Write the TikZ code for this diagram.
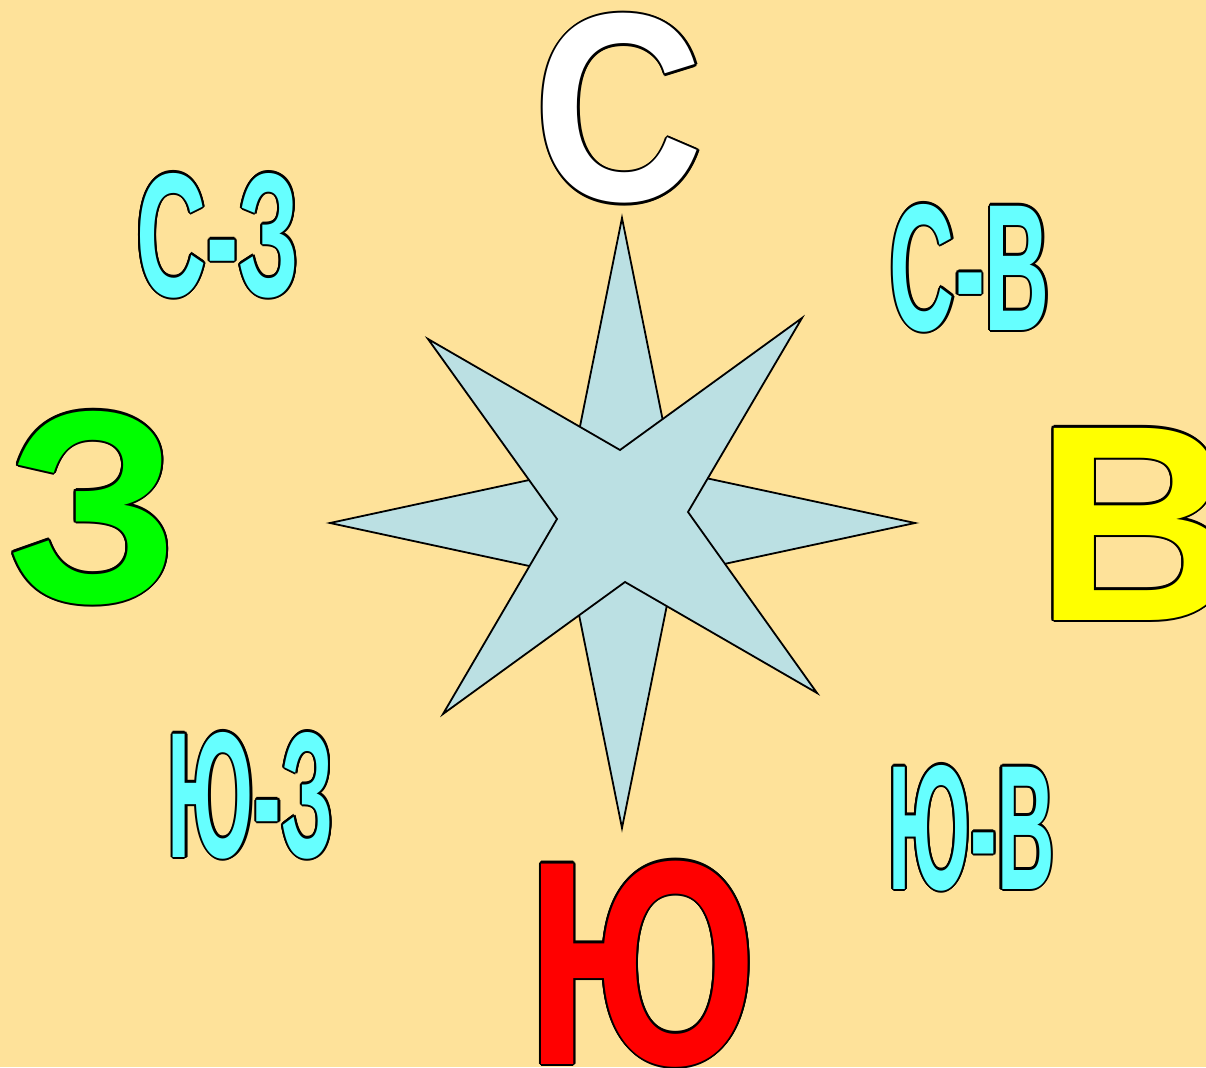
\documentclass[tikz,border=0pt]{standalone}
\usepackage{fontspec}
\setmainfont{Liberation Sans}
\usepackage{graphicx}
\definecolor{bg}{RGB}{254,226,154}
\definecolor{starfill}{RGB}{187,224,227}
\definecolor{cyanl}{RGB}{102,255,255}
\definecolor{greenl}{RGB}{0,255,0}
\definecolor{yellowl}{RGB}{255,255,0}
\definecolor{redl}{RGB}{255,0,0}
\newcommand\outl[4]{%
  \makebox[0pt][l]{%
    \foreach \a in {0,22.5,...,337.5}{%
      \pgfmathsetlengthmacro\ox{2.1pt*cos(\a)}%
      \pgfmathsetlengthmacro\oy{2.1pt*sin(\a)}%
      \makebox[0pt][l]{\hspace*{\ox}\raisebox{\oy}{\resizebox{#2}{#3}{\color{black}\bfseries #4}}}}}%
  \resizebox{#2}{#3}{\color{#1}\bfseries #4}}
\tikzset{
  lbl/.style={inner sep=0pt, anchor=base},
  starline/.style={draw=black, line width=1.8pt, fill=starfill, line join=miter}
}
\begin{document}
\begin{tikzpicture}[x=1pt,y=-1pt]
\useasboundingbox (0,0) rectangle (1206,1067);
\clip (0,0) rectangle (1206,1067);
\fill[bg] (0,0) rectangle (1206,1067);
% cardinal star
\draw[starline] (622,218) -- (673,471) -- (915,523) -- (673,575) -- (622,828) -- (571,575) -- (330,523) -- (571,471) -- cycle;
% diagonal star
\draw[starline] (428,339) -- (620,450) -- (802,318) -- (688,512) -- (817,693) -- (625,582) -- (443,714) -- (557,519) -- cycle;
% main directions
\node[lbl] (n) at (619,201) {\outl{white}{170pt}{187pt}{С}};
\node[lbl, anchor=base west] (e) at (1035,620) {\outl{yellowl}{!}{192pt}{В}};
\node[lbl] (w) at (93,602) {\outl{greenl}{!}{191pt}{З}};
\node[lbl] (s) at (642,1064) {\outl{redl}{231pt}{203pt}{Ю}};
% intermediate directions
\node[lbl] (nw) at (218,296) {\outl{cyanl}{163pt}{123pt}{С-З}};
\node[lbl] (ne) at (970,330) {\outl{cyanl}{160pt}{126pt}{С-В}};
\node[lbl] (sw) at (251,857) {\outl{cyanl}{166pt}{125pt}{Ю-З}};
\node[lbl] (se) at (971.5,889) {\outl{cyanl}{166pt}{124pt}{Ю-В}};
\end{tikzpicture}
\end{document}
